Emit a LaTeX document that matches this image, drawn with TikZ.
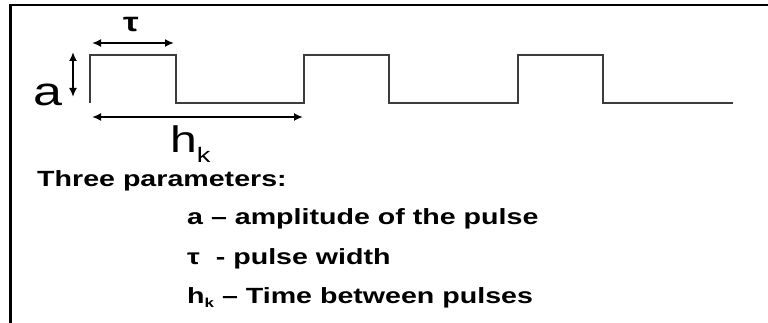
\documentclass[tikz,border=0pt]{standalone}
\usepackage{fontspec}
\usetikzlibrary{arrows.meta}
\newfontfamily\lsans[FakeStretch=1.3]{Liberation Sans}
\definecolor{wave}{HTML}{3C3C3C}
\tikzset{
  wavestyle/.style={draw=wave, line width=2.4pt, line join=miter},
  dimarrow/.style={draw=black, line width=2pt, {Latex[length=9pt,width=8pt]}-{Latex[length=9pt,width=8pt]}},
  lbl/.style={inner sep=0pt, anchor=base west, text=black},
  frameline/.style={draw=black, line width=2.5pt}
}
\begin{document}
\begin{tikzpicture}[x=1pt,y=-1pt]
\useasboundingbox (0,0) rectangle (768,323);
% frame
\draw[frameline] (10.7,323) -- (10.7,5) -- (768,5);
% waveform
\draw[wavestyle] (90,103) -- (90,55) -- (176,55) -- (176,103) -- (304,103) -- (304,55) -- (389,55) -- (389,103)
  -- (518,103) -- (518,55) -- (603,55) -- (603,103) -- (733,103);
% dimension coordinates
\coordinate (tauL) at (92,43);
\coordinate (tauR) at (174,43);
\coordinate (aT) at (73,52);
\coordinate (aB) at (73,97);
\coordinate (hL) at (92,117);
\coordinate (hR) at (303,117);
\draw[dimarrow] (tauL) -- (tauR);
\draw[dimarrow] (aT) -- (aB);
\draw[dimarrow] (hL) -- (hR);
% labels
\node[inner sep=0pt, anchor=base, text=black] (taulab) at (131,32) {\lsans\bfseries\fontsize{27}{27}\selectfont τ};
\node[lbl] (alab) at (33,105.5) {\lsans\fontsize{40}{40}\selectfont a};
\node[lbl] (hlab) at (170,153) {\lsans\fontsize{37}{37}\selectfont h\raisebox{-10pt}{\fontsize{21}{21}\selectfont k}};
% text
\node[lbl] (title) at (37,186) {\lsans\bfseries\fontsize{22}{22}\selectfont Three parameters:};
\node[lbl] (item1) at (187,224) {\lsans\bfseries\fontsize{22}{22}\selectfont a – amplitude of the pulse};
\node[lbl] (item2) at (187,264) {\lsans\bfseries\fontsize{22}{22}\selectfont τ\ \ - pulse width};
\node[lbl] (item3) at (187,303) {\lsans\bfseries\fontsize{22}{22}\selectfont h\raisebox{-4pt}{\fontsize{13}{13}\selectfont k} – Time between pulses};
\end{tikzpicture}
\end{document}
